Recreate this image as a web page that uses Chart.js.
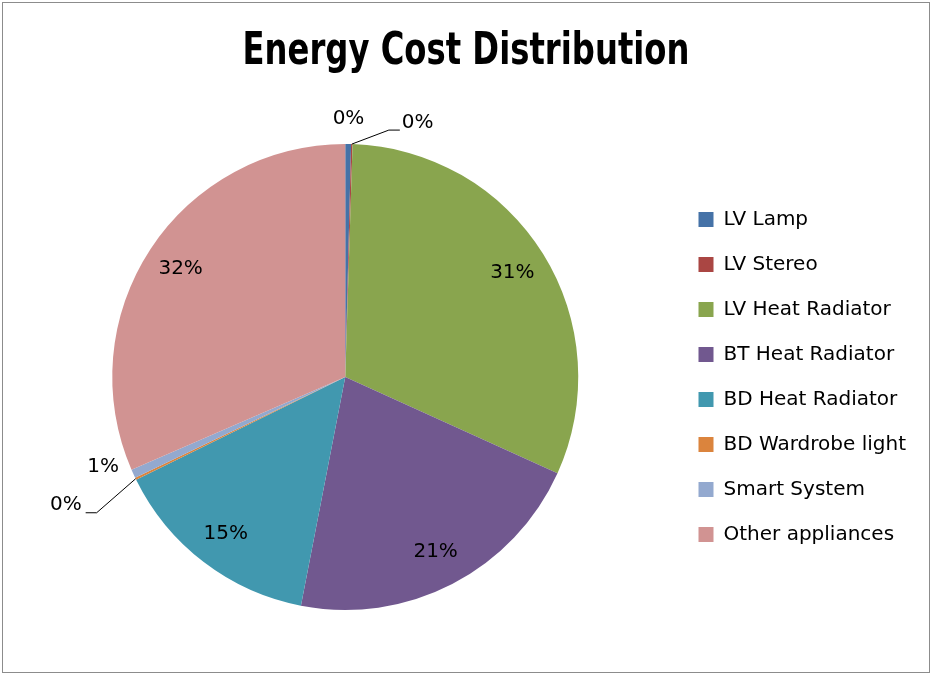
<!DOCTYPE html>
<html>
<head>
<meta charset="utf-8">
<script src="https://cdn.jsdelivr.net/npm/chart.js@4.4.1/dist/chart.umd.min.js"></script>
<style>
html,body{margin:0;padding:0;background:#fff;}
#wrap{width:932px;height:675px;position:relative;}
</style>
</head>
<body>
<div id="wrap"><canvas id="c" width="932" height="675"></canvas></div>
<script>
const categories = ["LV Lamp","LV Stereo","LV Heat Radiator","BT Heat Radiator","BD Heat Radiator","BD Wardrobe light","Smart System","Other appliances"];
const costShare = [0.4, 0.1, 31.3, 21.3, 14.7, 0.15, 0.6, 31.55];
const sliceColors = ["#4572A7","#AA4643","#89A54E","#71588F","#4198AF","#DB843D","#93A9CF","#D19392"];
const titleText = "Energy Cost Distribution";

const LABEL_FONT = "20px 'DejaVu Sans', sans-serif";
// placement of labels for the tiny slices (style only)
const smallLabelStyle = {
  0: {mode: "above"},
  1: {mode: "leaderRight"},
  5: {mode: "leaderLeft"},
  6: {mode: "outside"}
};

const frame = {
  id: "frame",
  beforeDraw(chart) {
    const ctx = chart.ctx;
    ctx.save();
    ctx.fillStyle = "#fff";
    ctx.fillRect(0, 0, chart.width, chart.height);
    ctx.strokeStyle = "#8c8c8c";
    ctx.lineWidth = 1;
    ctx.strokeRect(2.5, 2.5, chart.width - 5, chart.height - 5);
    // title (condensed bold)
    ctx.font = "bold 45px 'DejaVu Sans', sans-serif";
    const w = ctx.measureText(titleText).width;
    const target = 447;
    ctx.translate(466, 64);
    ctx.scale(target / w, 1);
    ctx.fillStyle = "#000";
    ctx.textAlign = "center";
    ctx.textBaseline = "alphabetic";
    ctx.fillText(titleText, 0, 0);
    ctx.restore();
  }
};

const pctLabels = {
  id: "pctLabels",
  afterDatasetsDraw(chart) {
    const ctx = chart.ctx;
    const meta = chart.getDatasetMeta(0);
    const data = chart.data.datasets[0].data;
    const total = data.reduce((a, b) => a + b, 0);
    ctx.save();
    ctx.font = LABEL_FONT;
    ctx.fillStyle = "#000";
    ctx.strokeStyle = "#000";
    ctx.lineWidth = 1;
    meta.data.forEach((arc, i) => {
      const p = arc.getProps(["x","y","startAngle","endAngle","outerRadius"], true);
      const mid = (p.startAngle + p.endAngle) / 2;
      const R = p.outerRadius;
      const txt = Math.round(data[i] / total * 100) + "%";
      const st = smallLabelStyle[i];
      ctx.textAlign = "center";
      ctx.textBaseline = "middle";
      if (!st) {
        const r = R * 0.845;
        ctx.fillText(txt, p.x + Math.cos(mid) * r, p.y + Math.sin(mid) * r);
      } else if (st.mode === "above") {
        const r = R * 1.11;
        ctx.fillText(txt, p.x + Math.cos(mid) * r, p.y + Math.sin(mid) * r);
      } else if (st.mode === "outside") {
        const r = R * 1.1;
        ctx.fillText(txt, p.x + Math.cos(mid) * r - 9, p.y + Math.sin(mid) * r - 17);
      } else if (st.mode === "leaderRight") {
        const x0 = p.x + Math.cos(mid) * R, y0 = p.y + Math.sin(mid) * R;
        const x1 = x0 + 37, y1 = y0 - 14;
        const x2 = x1 + 11;
        ctx.beginPath();
        ctx.moveTo(x0, y0); ctx.lineTo(x1, y1); ctx.lineTo(x2, y1);
        ctx.stroke();
        ctx.textAlign = "left";
        ctx.fillText(txt, x2 + 2, y1 - 7);
      } else if (st.mode === "leaderLeft") {
        const x0 = p.x + Math.cos(mid) * R, y0 = p.y + Math.sin(mid) * R;
        const x1 = x0 - 39, y1 = y0 + 34;
        const x2 = x1 - 11;
        ctx.beginPath();
        ctx.moveTo(x0, y0); ctx.lineTo(x1, y1); ctx.lineTo(x2, y1);
        ctx.stroke();
        ctx.textAlign = "right";
        ctx.fillText(txt, x2 - 4, y1 - 8);
      }
    });
    ctx.restore();
  }
};

new Chart(document.getElementById("c"), {
  type: "pie",
  data: {
    labels: categories,
    datasets: [{
      data: costShare,
      backgroundColor: sliceColors,
      borderWidth: 0
    }]
  },
  options: {
    responsive: false,
    animation: false,
    layout: { padding: { left: 17, right: 16, top: 144, bottom: 65 } },
    plugins: {
      title: { display: false },
      legend: {
        position: "right",
        align: "center",
        labels: {
          color: "#000",
          boxWidth: 15,
          boxHeight: 15,
          padding: 25,
          font: { family: "'DejaVu Sans', sans-serif", size: 20 }
        }
      },
      tooltip: { enabled: false }
    }
  },
  plugins: [frame, pctLabels]
});
</script>
</body>
</html>
